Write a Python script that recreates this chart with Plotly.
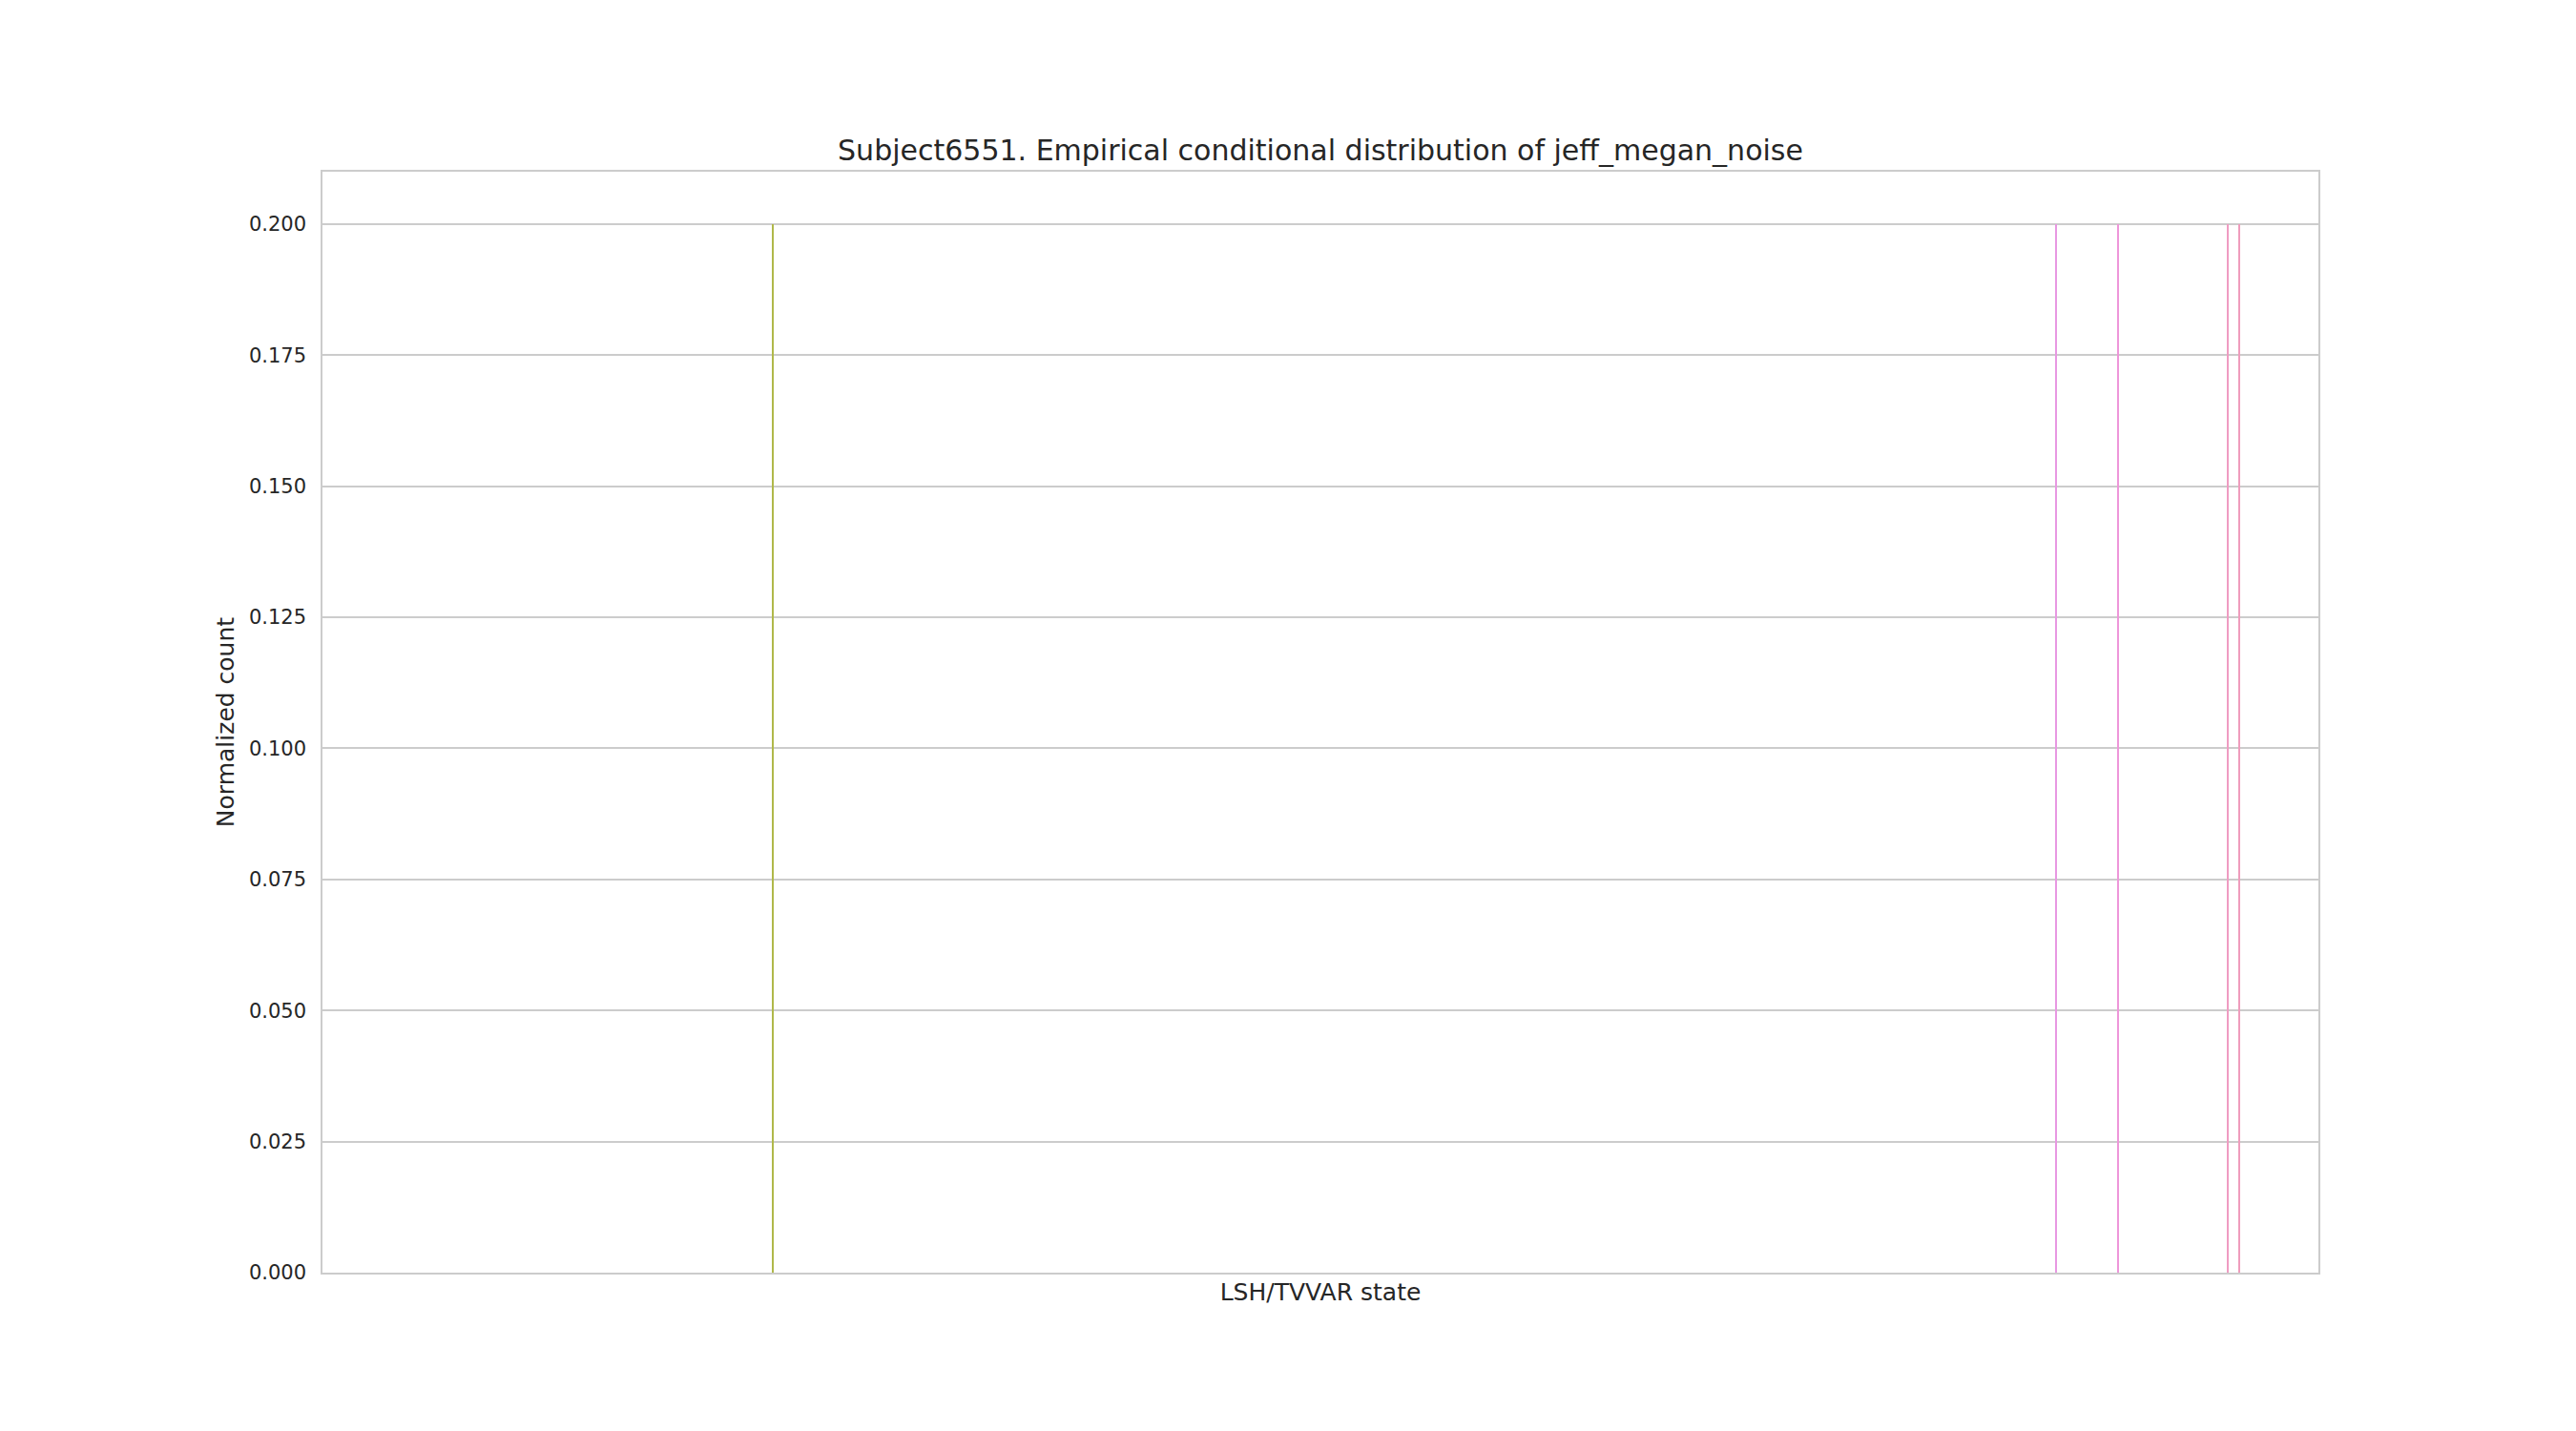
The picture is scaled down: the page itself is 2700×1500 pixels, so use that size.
import plotly.graph_objects as go

# Data
N_STATES = 1100
states = [248, 955, 989, 1049.5, 1056]
counts = [0.2, 0.2, 0.2, 0.2, 0.2]
bar_colors = ["#b0b84a", "#e898e2", "#ee96da", "#ef9cc2", "#ef9cbc"]
y_ticks = [0.0, 0.025, 0.05, 0.075, 0.1, 0.125, 0.15, 0.175, 0.2]
y_tick_text = ["0.000", "0.025", "0.050", "0.075", "0.100", "0.125", "0.150", "0.175", "0.200"]

FONT = "DejaVu Sans"
TXT = "#262626"
GRID = "#cccccc"

fig = go.Figure()
fig.add_trace(go.Bar(
    x=states, y=counts, width=0.7,
    marker=dict(color=bar_colors, line=dict(width=0)),
    showlegend=False,
))

fig.update_layout(
    width=2700, height=1500,
    margin=dict(l=338, r=270, t=180, b=166, pad=0),
    paper_bgcolor="white", plot_bgcolor="white",
    font=dict(family=FONT, color=TXT, size=21),
    title=dict(
        text="Subject6551. Empirical conditional distribution of jeff_megan_noise",
        font=dict(family=FONT, size=30, color=TXT),
        x=(338 + 2430) / 2 / 2700, xanchor="center",
        y=1 - 157 / 1500, yanchor="middle",
    ),
    bargap=0,
)

fig.update_xaxes(
    range=[-0.5, N_STATES - 0.5],
    showticklabels=False, ticks="", showgrid=False, zeroline=False,
    showline=True, linecolor=GRID, linewidth=1.5, mirror=True,
    title=dict(text="LSH/TVVAR state", font=dict(family=FONT, size=25, color=TXT), standoff=11),
)
fig.update_yaxes(
    range=[0, 0.21],
    tickvals=y_ticks, ticktext=y_tick_text,
    ticks="", ticklabelstandoff=11,
    showgrid=True, gridcolor=GRID, gridwidth=1.5, zeroline=False,
    showline=True, linecolor=GRID, linewidth=1.5, mirror=True,
    tickfont=dict(family=FONT, size=21, color=TXT),
    title=dict(text="Normalized count", font=dict(family=FONT, size=25, color=TXT), standoff=8),
)

fig.write_html("out.html")
